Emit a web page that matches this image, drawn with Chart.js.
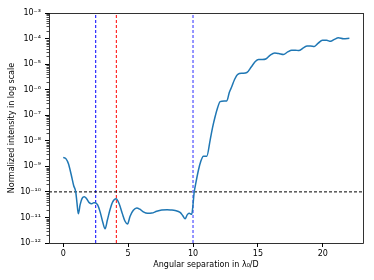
<!DOCTYPE html>
<html>
<head>
<meta charset="utf-8">
<script src="https://cdn.jsdelivr.net/npm/chart.js@4"></script>
<style>
html,body{margin:0;padding:0;background:#fff;}
#wrap{width:374px;height:280px;}
</style>
</head>
<body>
<div id="wrap"><canvas id="c" width="374" height="280"></canvas></div>
<script>
// Angular separation (lambda0/D)
const separation = [0.0,0.2,0.4,0.6,0.8,0.96,1.05,1.16,1.3,1.45,1.62,1.8,2.0,2.19,2.35,2.45,2.65,2.85,3.05,3.22,3.4,3.6,3.8,4.07,4.3,4.55,4.76,4.95,5.15,5.4,5.66,5.9,6.17,6.5,6.82,7.2,7.59,8.0,8.3,8.62,9.0,9.2,9.39,9.55,9.7,9.9,10.0,10.08,10.2,10.42,10.6,10.8,11.06,11.32,11.5,11.7,11.9,12.09,12.4,12.6,12.8,12.99,13.2,13.45,13.8,14.15,14.5,14.8,15.05,15.35,15.6,15.95,16.3,16.6,16.97,17.3,17.6,17.9,18.15,18.5,18.8,19.05,19.35,19.65,19.97,20.3,20.6,20.9,21.2,21.6,22.05];
// Normalized intensity
const intensity = [2.24e-9,2.0e-9,1.26e-9,5.0e-10,1.78e-10,1.0e-10,4.0e-11,1.38e-11,3.16e-11,5.6e-11,6.5e-11,5.4e-11,3.8e-11,3.4e-11,3.8e-11,3.8e-11,3.1e-11,1.58e-11,6.3e-12,3.6e-12,7.9e-12,2.0e-11,4.0e-11,5.4e-11,3.5e-11,1.41e-11,7.1e-12,5.5e-12,1.12e-11,1.9e-11,2.35e-11,2.1e-11,1.66e-11,1.45e-11,1.48e-11,1.74e-11,1.95e-11,2.0e-11,1.95e-11,1.86e-11,1.58e-11,1.2e-11,8.9e-12,1.26e-11,1.45e-11,1.32e-11,3.2e-11,8.9e-11,2.0e-10,7.2e-10,1.58e-9,2.5e-9,2.5e-9,1.07e-8,3.2e-8,8.7e-8,2.0e-7,3.4e-7,3.6e-7,3.6e-7,7.9e-7,1.32e-6,2.5e-6,4.0e-6,4.4e-6,4.7e-6,7.9e-6,1.26e-5,1.5e-5,1.5e-5,1.58e-5,2.24e-5,2.7e-5,2.6e-5,2.4e-5,3.0e-5,3.5e-5,3.5e-5,3.4e-5,4.3e-5,5.1e-5,5.1e-5,4.9e-5,6.6e-5,8.5e-5,8.5e-5,7.8e-5,9.3e-5,1.07e-4,9.8e-5,1.02e-4];
// Reference lines
const blueLines = [2.5, 10];
const redLines = [4.09];
const contrastLevel = 1e-10;
const xTicks = [0, 5, 10, 15, 20];
const yExponents = [-12,-11,-10,-9,-8,-7,-6,-5,-4,-3];
const xRange = [-1.1, 23.1];
const yRange = [1e-12, 1e-3];

const sup = {'-':'\u207B','0':'\u2070','1':'\u00B9','2':'\u00B2','3':'\u00B3','4':'\u2074','5':'\u2075','6':'\u2076','7':'\u2077','8':'\u2078','9':'\u2079'};
function supStr(n){return String(n).split('').map(c=>sup[c]).join('');}

const curve = separation.map((x,i)=>({x:x, y:intensity[i]}));
function vline(x){return [{x:x,y:yRange[0]},{x:x,y:yRange[1]}];}

const datasets = [];
datasets.push({data:[{x:xRange[0],y:contrastLevel},{x:xRange[1],y:contrastLevel}],borderColor:'#000',borderWidth:1,borderDash:[3,2],pointRadius:0,order:2});
blueLines.forEach((x,i)=>datasets.push({data:vline(x),borderColor: i===1 ? 'rgba(90,90,255,0.8)' : '#0000ff',borderWidth: i===1 ? 1.6 : 1,borderDash:[3,2],pointRadius:0,order:2}));
redLines.forEach(x=>datasets.push({data:vline(x),borderColor:'#ff0000',borderWidth:1,borderDash:[3,2],pointRadius:0,order:2}));
datasets.push({data:curve,borderColor:'#1f77b4',borderWidth:1.5,pointRadius:0,cubicInterpolationMode:'monotone',order:1});

const frame = {
  id:'frame',
  afterDraw(chart){
    const {ctx, chartArea:a} = chart;
    const ys = chart.scales.y;
    ctx.save();
    ctx.strokeStyle='#000'; ctx.lineWidth=0.7;
    ys.ticks.forEach(t=>{
      if(!t.major){
        const p = Math.round(ys.getPixelForValue(t.value))+0.5;
        ctx.beginPath(); ctx.moveTo(a.left-2.5,p); ctx.lineTo(a.left,p); ctx.stroke();
      }
    });
    ctx.strokeStyle='#000'; ctx.lineWidth=0.8;
    ctx.strokeRect(Math.round(a.left)+0.5, Math.round(a.top)+0.5, Math.round(a.right-a.left), Math.round(a.bottom-a.top));
    ctx.restore();
  }
};

new Chart(document.getElementById('c'), {
  type:'line',
  data:{datasets},
  plugins:[frame],
  options:{
    responsive:false,
    animation:false,
    events:[],
    layout:{padding:{left:0,right:11,top:13,bottom:10}},
    plugins:{legend:{display:false},tooltip:{enabled:false}},
    scales:{
      x:{
        type:'linear', min:xRange[0], max:xRange[1],
        afterBuildTicks(s){ s.ticks = xTicks.map(v=>({value:v})); },
        afterFit(s){ s.height = 27; },
        grid:{drawOnChartArea:false, drawTicks:true, tickLength:4, color:'#000', tickColor:'#000'},
        border:{display:false},
        ticks:{color:'#000', font:{family:'DejaVu Sans', size:8}, padding:2, maxRotation:0},
        title:{display:true, text:'Angular separation in \u03BB\u2080/D', color:'#000', font:{family:'DejaVu Sans', size:8}, padding:{top:0,bottom:0}}
      },
      y:{
        type:'logarithmic', min:yRange[0], max:yRange[1],
        afterBuildTicks(s){
          const t=[];
          yExponents.forEach((e,k)=>{
            t.push({value:Math.pow(10,e), major:true, label:'10'+supStr(e)});
            if(k<yExponents.length-1){ for(let m=2;m<=9;m++) t.push({value:m*Math.pow(10,e), major:false}); }
          });
          s.ticks = t;
        },
        afterFit(s){ s.width = 49; },
        grid:{drawOnChartArea:false, drawTicks:true, tickLength:4, tickColor:(c)=> (c.tick && c.tick.major) ? '#000' : 'rgba(0,0,0,0)'},
        border:{display:false},
        ticks:{autoSkip:false, color:'#000', font:{family:'DejaVu Sans', size:8}, padding:4,
          callback:(v,i,ticks)=> ticks[i].major ? ticks[i].label : ''},
        title:{display:true, text:'Normalized intensity in log scale', color:'#000', font:{family:'DejaVu Sans', size:8}, padding:{top:7,bottom:0}}
      }
    }
  }
});
</script>
</body>
</html>
